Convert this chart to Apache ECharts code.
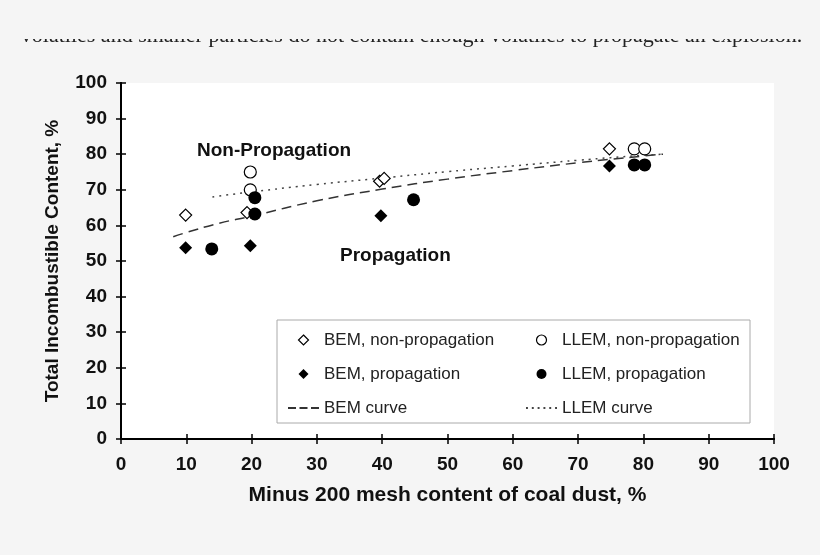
<!DOCTYPE html>
<html>
<head>
<meta charset="utf-8">
<script src="https://cdn.jsdelivr.net/npm/echarts@6/dist/echarts.min.js"></script>
<style>
  html, body { margin: 0; padding: 0; background: #f5f5f5; }
  #chart { width: 820px; height: 555px; }
</style>
</head>
<body>
<div id="chart"></div>
<script>
// values
const bemNonProp = [[9.9, 62.9], [19.3, 63.6], [39.6, 72.4], [40.3, 73.2], [74.8, 81.5]];
const llemNonProp = [[19.8, 75.0], [19.8, 70.0], [78.6, 81.5], [80.2, 81.5]];
const bemProp = [[9.9, 53.7], [19.8, 54.3], [39.8, 62.7], [74.8, 76.7]];
const llemProp = [[13.9, 53.4], [20.5, 67.8], [20.5, 63.2], [44.8, 67.2], [78.6, 77.0], [80.2, 77.0]];
const bemCurve = [[8, 56.8], [10, 58.0], [15, 60.6], [20, 62.6], [30, 66.9], [40, 70.2], [50, 73.0], [60, 75.4], [70, 77.6], [80, 79.5], [83, 80.0]];
const llemCurve = [[14, 68.0], [20, 69.4], [30, 71.5], [40, 73.3], [50, 75.1], [60, 76.7], [70, 78.3], [80, 79.7], [83, 80.0]];
const ticks = [0, 10, 20, 30, 40, 50, 60, 70, 80, 90, 100];

const sans = "Liberation Sans, Arial, sans-serif";
const chart = echarts.init(document.getElementById("chart"));

// legend icons (path icons keep their aspect inside the item box)
const diamondIcon = "path://M5,0L10,5L5,10L0,5Z";
const circleIcon = "path://M5,0A5,5,0,1,1,5,10A5,5,0,1,1,5,0Z";
const dashIcon = "path://M0,0h8v2H0zM11.5,0h8v2h-8zM23,0h8v2h-8z";
const dotIcon = "path://M0,0h2v2H0zM6,0h2v2H6zM12,0h2v2h-2zM18,0h2v2h-2zM24,0h2v2h-2zM30,0h2v2h-2z";

const openStyle = { color: "#fff", borderColor: "#000", borderWidth: 1.2, opacity: 1 };
const solidStyle = { color: "#000", opacity: 1 };

const axisCommon = {
  min: ticks[0],
  max: ticks[ticks.length - 1],
  interval: 10,
  splitLine: { show: false },
  axisLine: { show: true, lineStyle: { color: "#000", width: 2 } },
  axisTick: { show: true, inside: true, length: 5, lineStyle: { color: "#000", width: 1.5 } },
};

const labelStyle = { color: "#111", fontFamily: sans, fontWeight: "bold", fontSize: 19 };
const legendText = { color: "#222", fontFamily: sans, fontSize: 17, lineHeight: 24 };

const option = {
  backgroundColor: "#f5f5f5",
  animation: false,
  grid: {
    left: 121, top: 83, width: 653, height: 356,
    show: true, backgroundColor: "#fff", borderWidth: 0,
  },
  xAxis: [
    Object.assign({}, axisCommon, {
      type: "value", position: "bottom",
      axisLabel: Object.assign({ margin: 16 }, labelStyle),
      name: "Minus 200 mesh content of coal dust, %",
      nameLocation: "middle", nameGap: 46,
      nameTextStyle: { color: "#111", fontFamily: sans, fontWeight: "bold", fontSize: 21 },
    }),
    Object.assign({}, axisCommon, { type: "value", position: "top", axisLabel: { show: false } }),
  ],
  yAxis: [
    Object.assign({}, axisCommon, {
      type: "value", position: "left",
      axisLabel: Object.assign({ margin: 14 }, labelStyle),
      name: "Total Incombustible Content, %",
      nameLocation: "middle", nameGap: 59,
      nameTextStyle: { color: "#111", fontFamily: sans, fontWeight: "bold", fontSize: 19 },
    }),
    Object.assign({}, axisCommon, { type: "value", position: "right", axisLabel: { show: false } }),
  ],
  legend: [
    {
      left: 283, top: 323, orient: "vertical",
      itemWidth: 31, itemHeight: 10, itemGap: 10, symbolKeepAspect: true,
      textStyle: legendText,
      data: [
        { name: "BEM, non-propagation", icon: diamondIcon, itemStyle: openStyle },
        { name: "BEM, propagation", icon: diamondIcon, itemStyle: solidStyle },
        { name: "BEM curve", icon: dashIcon, itemStyle: { color: "#333" } },
      ],
    },
    {
      left: 521, top: 323, orient: "vertical",
      itemWidth: 31, itemHeight: 10, itemGap: 10, symbolKeepAspect: true,
      textStyle: legendText,
      data: [
        { name: "LLEM, non-propagation", icon: circleIcon, itemStyle: openStyle },
        { name: "LLEM, propagation", icon: circleIcon, itemStyle: solidStyle },
        { name: "LLEM curve", icon: dotIcon, itemStyle: { color: "#444" } },
      ],
    },
  ],
  graphic: [
    {
      type: "text", left: 8, top: 25, z: 1,
      style: {
        text: "· volatiles and smaller particles do not contain enough volatiles to propagate an explosion.",
        font: "22px 'Liberation Serif', 'Times New Roman', serif", fill: "#222",
      },
    },
    { type: "rect", shape: { x: 0, y: 0, width: 820, height: 39 }, z: 2, style: { fill: "#f5f5f5" } },
    {
      type: "rect", shape: { x: 277, y: 320, width: 473, height: 103 }, z: 0,
      style: { fill: "#fff", stroke: "#aaa", lineWidth: 1 },
    },
    {
      type: "text", left: 197, top: 141,
      style: { text: "Non-Propagation", font: "bold 19px " + sans, fill: "#111" },
    },
    {
      type: "text", left: 340, top: 246,
      style: { text: "Propagation", font: "bold 19px " + sans, fill: "#111" },
    },
  ],
  series: [
    {
      name: "BEM curve", type: "line", data: bemCurve, smooth: true, showSymbol: false, symbol: "none",
      lineStyle: { color: "#333", width: 1.5, type: [10, 6] }, itemStyle: { color: "#333" }, z: 1,
    },
    {
      name: "LLEM curve", type: "line", data: llemCurve, smooth: true, showSymbol: false, symbol: "none",
      lineStyle: { color: "#444", width: 1.5, type: [2, 5] }, itemStyle: { color: "#444" }, z: 1,
    },
    {
      name: "BEM, non-propagation", type: "scatter", data: bemNonProp, symbol: "diamond", symbolSize: 12,
      itemStyle: openStyle,
    },
    {
      name: "LLEM, non-propagation", type: "scatter", data: llemNonProp, symbol: "circle", symbolSize: 12,
      itemStyle: openStyle,
    },
    {
      name: "BEM, propagation", type: "scatter", data: bemProp, symbol: "diamond", symbolSize: 13,
      itemStyle: solidStyle,
    },
    {
      name: "LLEM, propagation", type: "scatter", data: llemProp, symbol: "circle", symbolSize: 13,
      itemStyle: solidStyle,
    },
  ],
};

chart.setOption(option);
</script>
</body>
</html>
